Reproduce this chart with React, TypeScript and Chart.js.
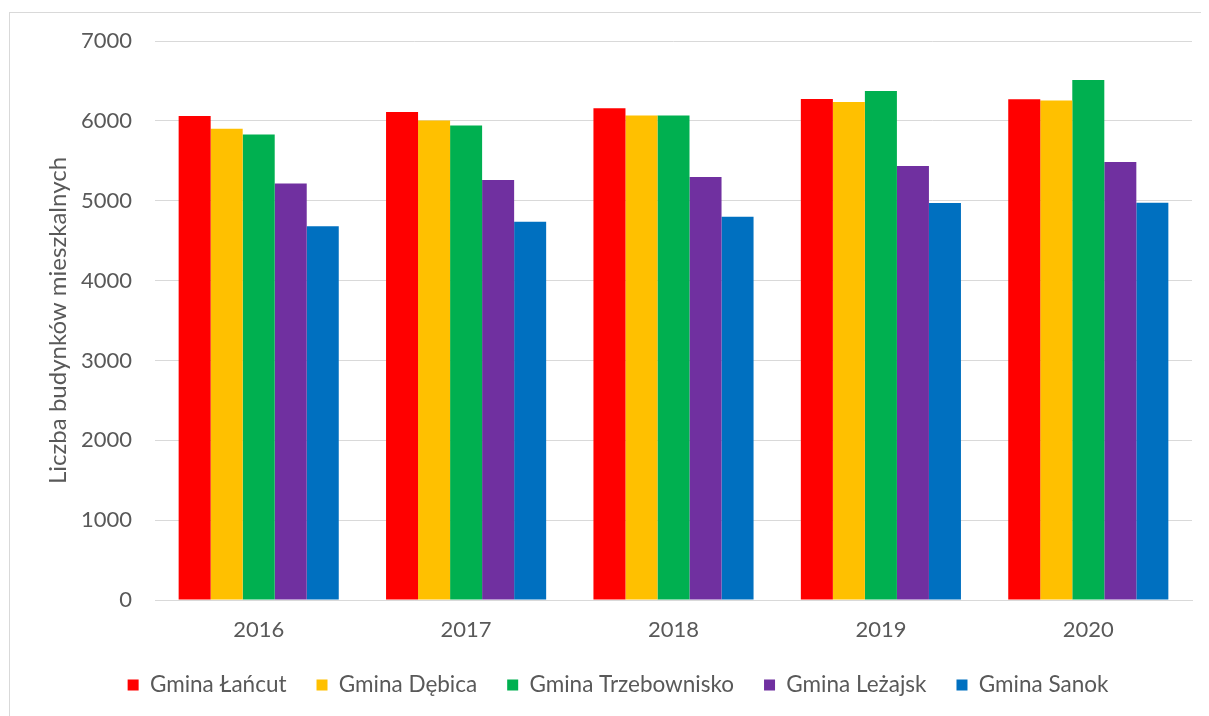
import React, { useEffect, useRef } from "react";
import { Chart, registerables } from "chart.js";

Chart.register(...registerables);

const years = ["2016", "2017", "2018", "2019", "2020"];
const lancut = [6062, 6112, 6159, 6275, 6271];
const debica = [5900, 6004, 6066, 6237, 6254];
const trzebownisko = [5830, 5941, 6066, 6375, 6512];
const lezajsk = [5216, 5259, 5296, 5434, 5484];
const sanok = [4679, 4738, 4800, 4971, 4975];
const yTicks = [0, 1000, 2000, 3000, 4000, 5000, 6000, 7000];

const FONT = "Lato";
const TXT = "#595959";

export default function App() {
  const ref = useRef<HTMLCanvasElement | null>(null);
  useEffect(() => {
    if (!ref.current) return;
    const mk = (label: string, data: number[], color: string) => ({
      label,
      data,
      backgroundColor: color,
      borderWidth: 0,
      categoryPercentage: 0.772,
      barPercentage: 1,
    });
    const chart = new Chart(ref.current, {
      type: "bar",
      data: {
        labels: years,
        datasets: [
          mk("Gmina Łańcut", lancut, "#FF0000"),
          mk("Gmina Dębica", debica, "#FFC000"),
          mk("Gmina Trzebownisko", trzebownisko, "#00B050"),
          mk("Gmina Leżajsk", lezajsk, "#7030A0"),
          mk("Gmina Sanok", sanok, "#0070C0"),
        ],
      },
      options: {
        responsive: false,
        animation: false,
        layout: { padding: { left: 34, right: 17, top: 28, bottom: 9.75 } },
        plugins: {
          tooltip: { enabled: false },
          legend: {
            position: "bottom",
            labels: {
              boxWidth: 11,
              boxHeight: 11,
              padding: 30,
              color: TXT,
              font: { family: FONT, size: 22.5 },
            },
          },
        },
        scales: {
          x: {
            grid: { display: false, drawTicks: false },
            border: { display: true, color: "#d9d9d9", width: 1 },
            ticks: { color: TXT, font: { family: FONT, size: 22 }, padding: 17 },
            afterFit: (s: any) => {
              s.height = 43.75;
              s.paddingLeft = 0;
              s.paddingRight = 0;
            },
          },
          y: {
            min: 0,
            max: 7000,
            afterBuildTicks: (s: any) => {
              s.ticks = yTicks.map((v) => ({ value: v }));
            },
            grid: { color: "#d9d9d9", lineWidth: 1, drawTicks: false },
            border: { display: false },
            ticks: {
              color: TXT,
              font: { family: FONT, size: 22 },
              padding: 23,
              callback: (v: any) => String(v),
            },
            title: {
              display: true,
              text: "Liczba budynków mieszkalnych",
              color: TXT,
              font: { family: FONT, size: 24 },
              padding: { top: 0, bottom: 0 },
            },
            afterFit: (s: any) => {
              s.width = 111;
              s.paddingTop = 0;
              s.paddingBottom = 0;
            },
          },
        },
      },
    });
    return () => chart.destroy();
  }, []);
  return (
    <div
      style={{
        marginTop: 4,
        marginLeft: 1,
        width: 1199,
        height: 703,
        borderLeft: "1px solid #d9d9d9",
        borderTop: "1px solid #d9d9d9",
        background: "#fff",
      }}
    >
      <canvas ref={ref} width={1199} height={703} style={{ display: "block" }} />
    </div>
  );
}
